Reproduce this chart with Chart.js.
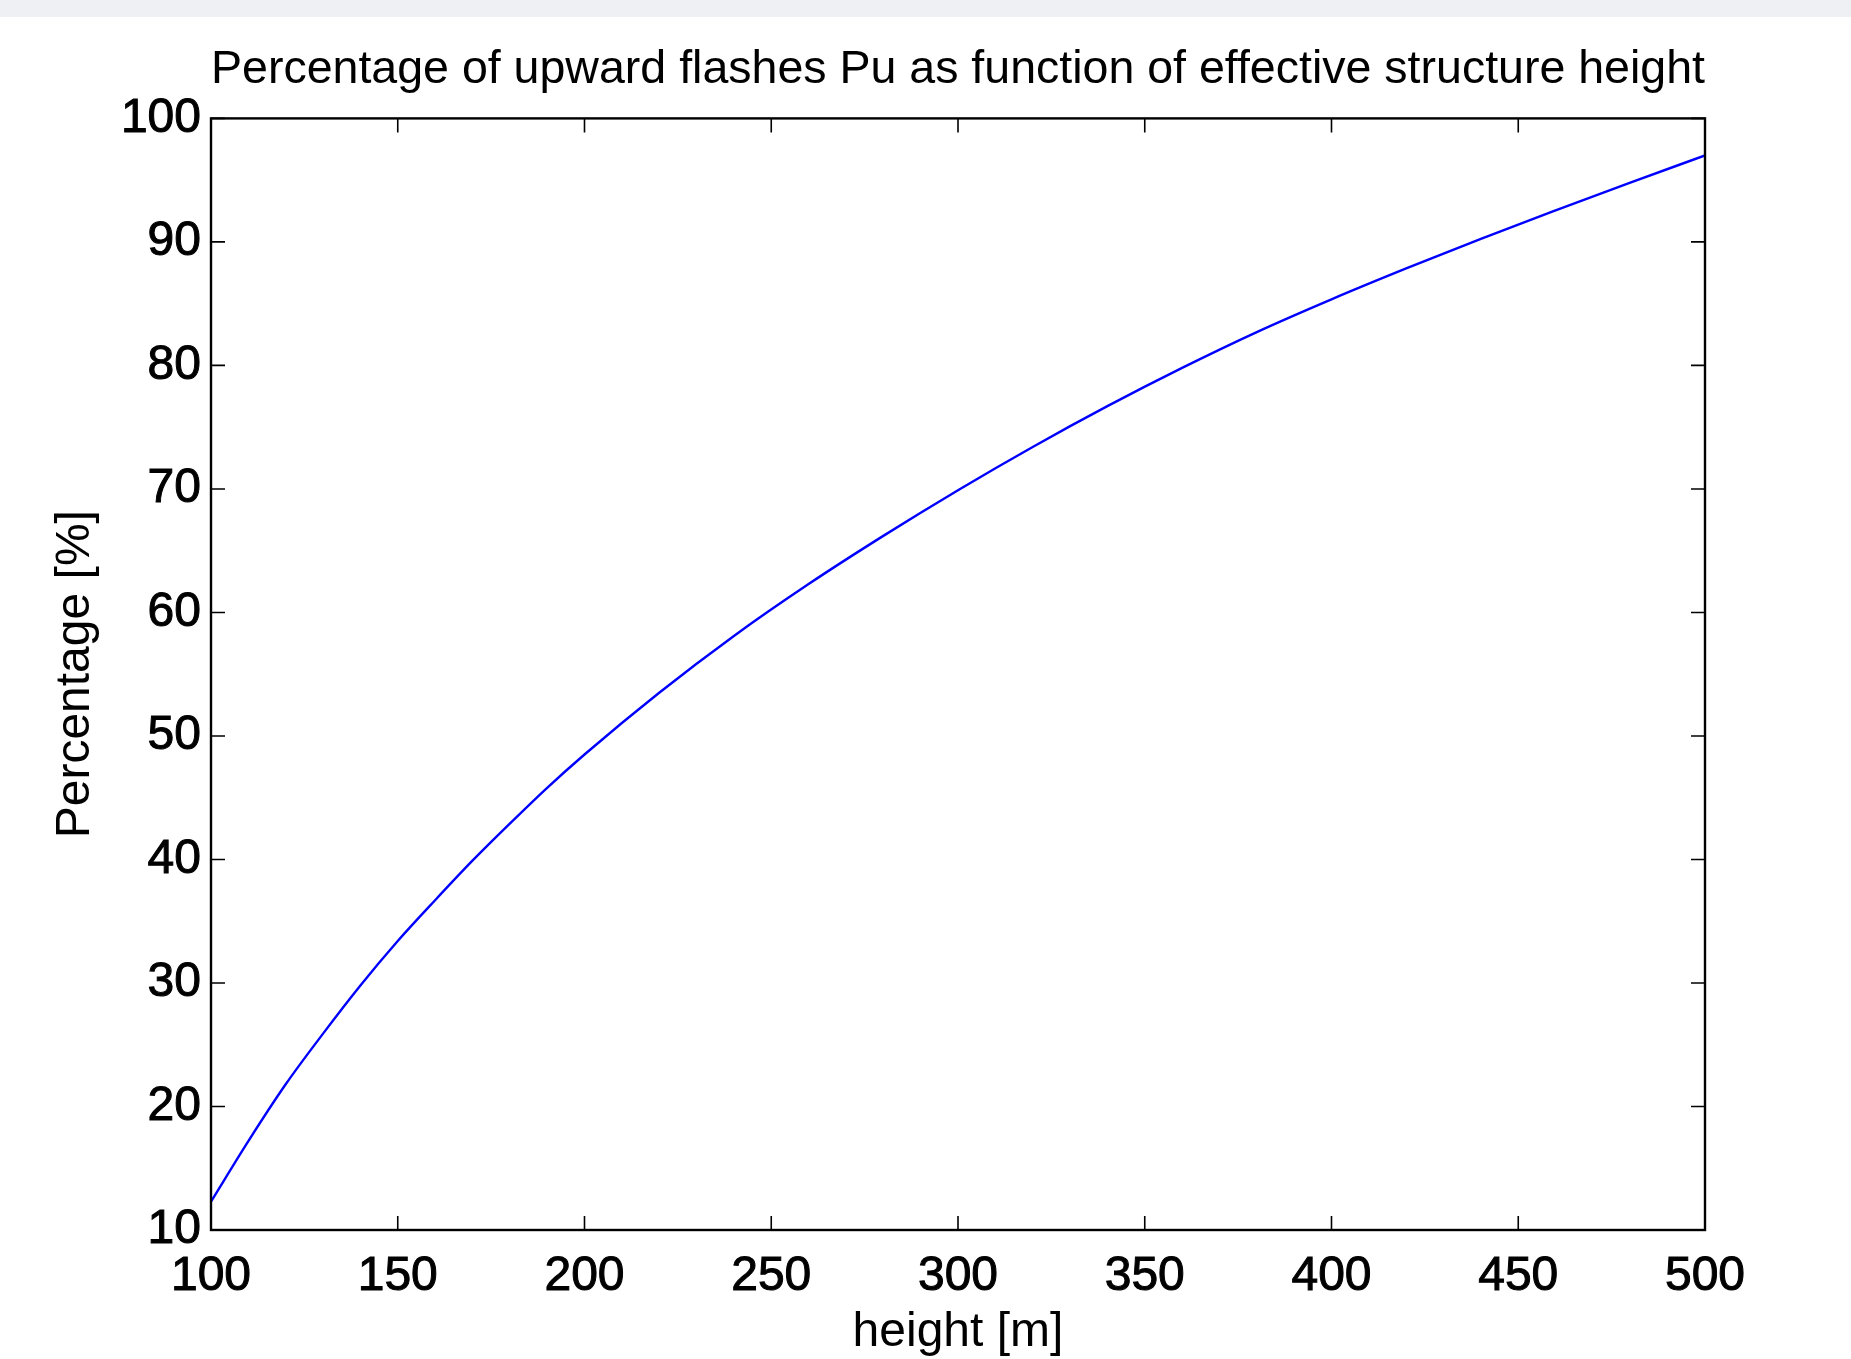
<!DOCTYPE html>
<html>
<head>
<meta charset="utf-8">
<title>Percentage of upward flashes Pu</title>
<script src="https://cdn.jsdelivr.net/npm/chart.js@4/dist/chart.umd.min.js"></script>
<style>
  html, body { margin: 0; padding: 0; background: #fff; }
  .topbar { height: 17px; background: #eff0f4; }
  canvas { display: block; }
</style>
</head>
<body>
<div class="topbar"></div>
<canvas id="puChart" width="1851" height="1342"></canvas>
<script>
// effective structure height [m] and percentage of upward flashes [%]
const heights = [100, 110, 120, 130, 140, 150, 160, 170, 180, 190, 200, 220, 240, 260, 280, 300, 320, 340, 360, 380, 400, 420, 440, 460, 480, 500]
const upwardPct = [12.3, 17.2, 21.8, 25.9, 29.8, 33.4, 36.7, 39.9, 42.9, 45.8, 48.5, 53.5, 58.1, 62.3, 66.2, 69.9, 73.4, 76.7, 79.8, 82.7, 85.35, 87.85, 90.25, 92.55, 94.8, 97.0]

const xTickValues = [100, 150, 200, 250, 300, 350, 400, 450, 500]
const yTickValues = [10, 20, 30, 40, 50, 60, 70, 80, 90, 100]

const FONT = "'Liberation Sans', Arial, Helvetica, sans-serif"

// box around the axes with inward ticks on all four sides
const matlabFrame = {
  id: 'matlabFrame',
  afterDatasetsDraw(chart) {
    const { ctx, chartArea: a, scales: { x, y } } = chart
    const len = 14
    ctx.save()
    ctx.strokeStyle = '#000'
    ctx.lineWidth = 1.6
    ctx.beginPath()
    x.ticks.forEach(t => {
      const px = x.getPixelForValue(t.value)
      ctx.moveTo(px, a.bottom); ctx.lineTo(px, a.bottom - len)
      ctx.moveTo(px, a.top); ctx.lineTo(px, a.top + len)
    })
    y.ticks.forEach(t => {
      const py = y.getPixelForValue(t.value)
      ctx.moveTo(a.left, py); ctx.lineTo(a.left + len, py)
      ctx.moveTo(a.right, py); ctx.lineTo(a.right - len, py)
    })
    ctx.stroke()
    ctx.lineWidth = 2.4
    ctx.strokeRect(a.left, a.top, a.right - a.left, a.bottom - a.top)
    ctx.restore()
  },
}

new Chart(document.getElementById('puChart'), {
  type: 'line',
  data: {
    labels: heights,
    datasets: [
      {
        data: heights.map((h, i) => ({ x: h, y: upwardPct[i] })),
        borderColor: '#0000ff',
        borderWidth: 2.4,
        pointRadius: 0,
        fill: false,
        cubicInterpolationMode: 'monotone',
      },
    ],
  },
  options: {
    responsive: false,
    animation: false,
    events: [],
    layout: { padding: { left: 0, right: 146, top: 0, bottom: 0 } },
    plugins: {
      legend: { display: false },
      tooltip: { enabled: false },
      title: {
        display: true,
        fullSize: false,
        text: 'Percentage of upward flashes Pu as function of effective structure height',
        color: '#000',
        font: { family: FONT, size: 47, weight: 'normal' },
        padding: { top: 25, bottom: 20 },
      },
    },
    scales: {
      x: {
        type: 'linear',
        min: 100,
        max: 500,
        afterBuildTicks: s => { s.ticks = xTickValues.map(v => ({ value: v })) },
        afterFit: s => { s.height = 129 },
        grid: { display: false, drawTicks: false },
        border: { display: false },
        ticks: {
          color: '#000', padding: 18, textStrokeColor: '#000', textStrokeWidth: 1,
          font: { family: FONT, size: 48 },
        },
        title: {
          display: true,
          text: 'height [m]',
          color: '#000',
          font: { family: FONT, size: 48 },
          padding: { top: 0, bottom: -3 },
        },
      },
      y: {
        min: 10,
        max: 100,
        afterBuildTicks: s => { s.ticks = yTickValues.map(v => ({ value: v })) },
        afterFit: s => { s.width = 211 },
        grid: { display: false, drawTicks: false },
        border: { display: false },
        ticks: {
          color: '#000', padding: 10, textStrokeColor: '#000', textStrokeWidth: 1,
          font: { family: FONT, size: 48 },
        },
        title: {
          display: true,
          text: 'Percentage [%]',
          color: '#000',
          font: { family: FONT, size: 48 },
          padding: { top: 47, bottom: 0 },
        },
      },
    },
  },
  plugins: [matlabFrame],
})
</script>
</body>
</html>
